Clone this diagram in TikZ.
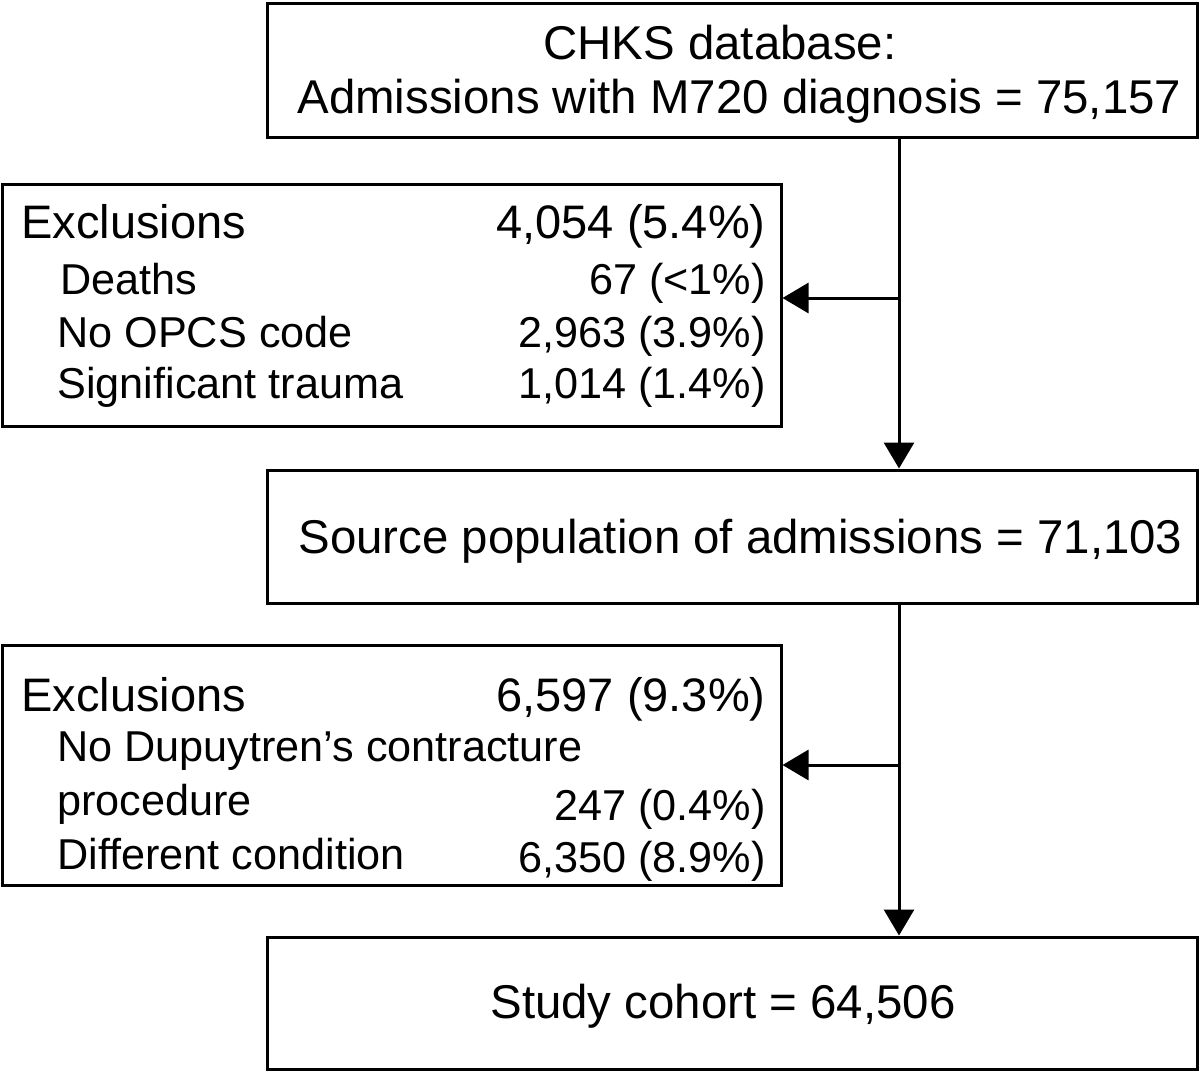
\documentclass[tikz,border=0pt]{standalone}
\usepackage{fontspec}
\setmainfont{Liberation Sans}
\usetikzlibrary{arrows.meta}
\tikzset{
  box/.style={draw=black, line width=1.5pt, rectangle, inner sep=0pt},
  txt/.style={inner sep=0pt, font=\fontsize{23.7}{28}\selectfont},
  head/.style={inner sep=0pt, font=\fontsize{23.5}{28}\selectfont},
  sub/.style={inner sep=0pt, font=\fontsize{21.6}{26}\selectfont},
  lt/.style={anchor=base west},
  rt/.style={anchor=base east},
  conn/.style={line width=1.5pt, -{Triangle[length=13pt,width=15pt]}}
}
\begin{document}
\begin{tikzpicture}[x=0.5pt,y=-0.5pt]
\useasboundingbox (0,0) rectangle (1200,1073);
% boxes
\node[box, minimum width=465pt, minimum height=67pt] (b1) at (732,70) {};
\node[box, minimum width=389.5pt, minimum height=121pt] (e1) at (391.5,305) {};
\node[box, minimum width=465pt, minimum height=66.5pt] (b2) at (732,536.5) {};
\node[box, minimum width=389.5pt, minimum height=120pt] (e2) at (391.5,765) {};
\node[box, minimum width=465pt, minimum height=66pt] (b3) at (732,1003) {};
% texts box 1
\node[txt,lt] (t1a) at (543,59) {CHKS database:};
\node[txt,lt] (t1b) at (297,113) {Admissions with M720 diagnosis = 75,157};
% exclusions 1
\node[head,lt] (x1a) at (21,238) {Exclusions};
\node[head,rt] (x1av) at (766,238) {4,054 (5.4\%)};
\node[sub,lt] (x1b) at (60,294) {Deaths};
\node[sub,rt] (x1bv) at (766,294) {67 (<1\%)};
\node[sub,lt] (x1c) at (57,347) {No OPCS code};
\node[sub,rt] (x1cv) at (766,347) {2,963 (3.9\%)};
\node[sub,lt] (x1d) at (57,398) {Significant trauma};
\node[sub,rt] (x1dv) at (766,398) {1,014 (1.4\%)};
% box 2
\node[txt,lt] (t2) at (298,553) {Source population of admissions = 71,103};
% exclusions 2
\node[head,lt] (x2a) at (21,711) {Exclusions};
\node[head,rt] (x2av) at (766,711) {6,597 (9.3\%)};
\node[sub,lt] (x2b) at (57,761) {No Dupuytren’s contracture};
\node[sub,lt] (x2c) at (57,815) {procedure};
\node[sub,rt] (x2cv) at (766,820) {247 (0.4\%)};
\node[sub,lt] (x2d) at (57,869) {Different condition};
\node[sub,rt] (x2dv) at (766,872) {6,350 (8.9\%)};
% box 3
\node[txt,lt] (t3) at (490,1018) {Study cohort = 64,506};
% connectors
\coordinate (j1) at (899,298);
\coordinate (j2) at (899,765);
\draw[conn] (b1.south -| j1) -- (b2.north -| j1);
\draw[conn] (j1) -- (e1.east |- j1);
\draw[conn] (b2.south -| j2) -- (b3.north -| j2);
\draw[conn] (j2) -- (e2.east |- j2);
\end{tikzpicture}
\end{document}
